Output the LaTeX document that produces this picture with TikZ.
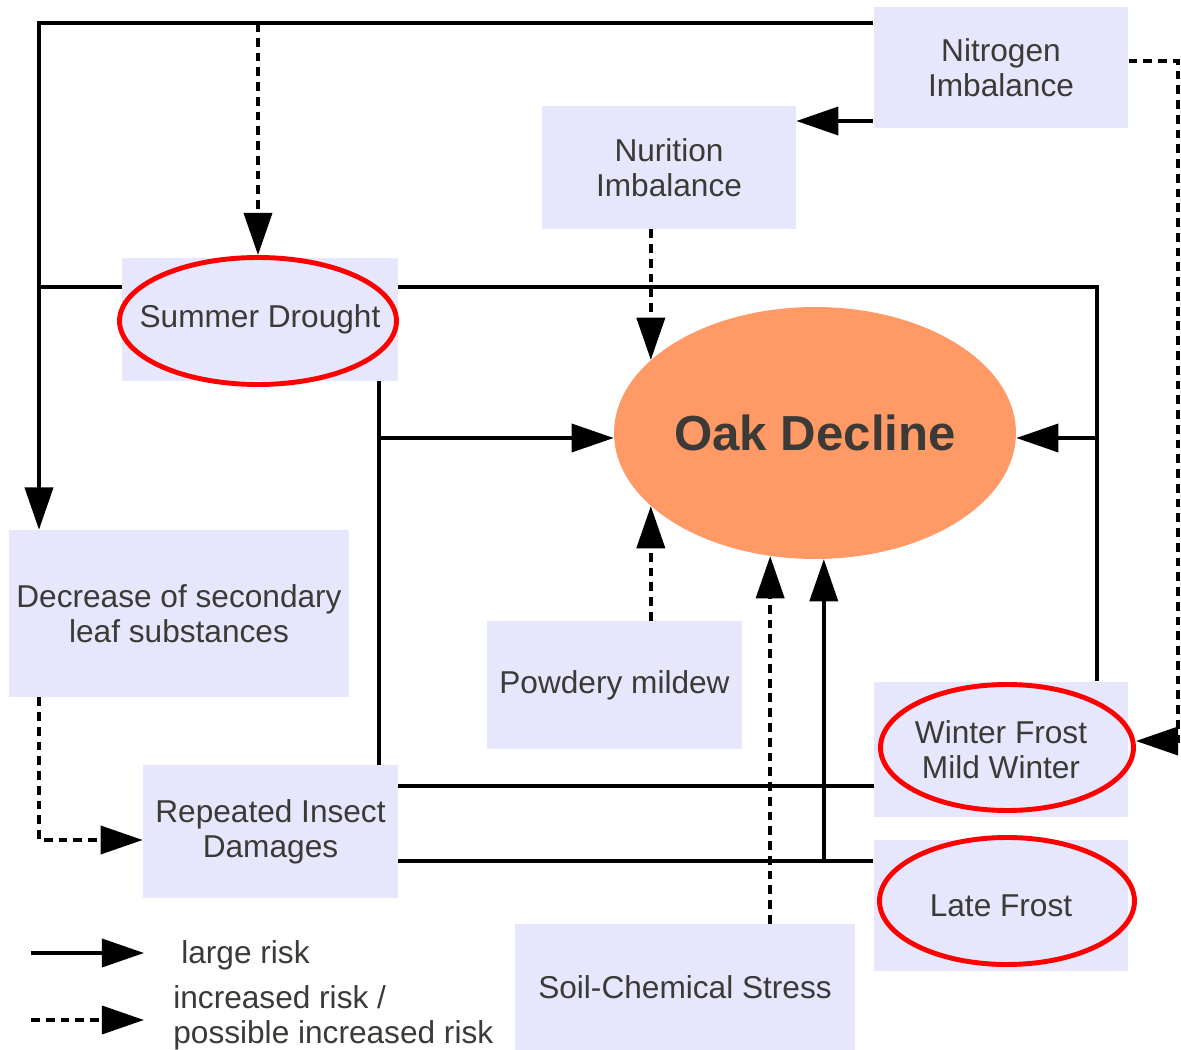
\documentclass[tikz,border=0pt]{standalone}
\usepackage{fontspec}
\setmainfont{Liberation Sans}
\usetikzlibrary{arrows.meta,shapes.geometric}
\definecolor{boxfill}{RGB}{230,230,252}
\definecolor{oakfill}{RGB}{255,153,102}
\definecolor{txt}{RGB}{60,58,54}
\begin{document}
\begin{tikzpicture}[x=0.02cm,y=-0.02cm,
    every node/.style={font=\fontsize{18}{20}\selectfont,text=txt},
    box/.style={rectangle,fill=boxfill,align=center,inner sep=0pt},
    ring/.style={ellipse,draw=red,line width=2.8pt,inner sep=0pt},
    link/.style={line width=2pt},
    risk/.style={link,-{Triangle[length=24pt,width=16pt]}},
    maybe/.style={link,dash pattern=on 5pt off 3.4pt},
    mayberisk/.style={maybe,-{Triangle[length=24pt,width=16pt]}}]
    \useasboundingbox (0,0) rectangle (1181,1050);
    % boxes
    \node at (1001,67.5) [box,minimum width=5.09cm,minimum height=2.42cm] (nit) {Nitrogen\\Imbalance};
    \node at (669,167.5) [box,minimum width=5.08cm,minimum height=2.46cm] (nut) {Nurition\\Imbalance};
    \node at (260,319.5) [box,minimum width=5.52cm,minimum height=2.46cm] (sd) {Summer Drought};
    \node at (179,613.5) [box,minimum width=6.8cm,minimum height=3.34cm] (dec) {Decrease of secondary\\leaf substances};
    \node at (614.5,685) [box,minimum width=5.1cm,minimum height=2.56cm] (pm) {Powdery mildew};
    \node at (1001,749.5) [box,minimum width=5.08cm,minimum height=2.72cm] (wf) {Winter Frost\\Mild Winter};
    \node at (270.5,831.5) [box,minimum width=5.1cm,minimum height=2.66cm] (rid) {Repeated Insect\\Damages};
    \node at (1001,905.5) [box,minimum width=5.1cm,minimum height=2.64cm] (lf) {Late Frost};
    \node at (685,987.5) [box,minimum width=6.8cm,minimum height=2.54cm] (soil) {Soil-Chemical Stress};
    % red rings
    \node at (258,321) [ring,minimum width=5.54cm,minimum height=2.54cm] (sdr) {};
    \node at (1007,747.5) [ring,minimum width=5.06cm,minimum height=2.52cm] (wfr) {};
    \node at (1007,901) [ring,minimum width=5.1cm,minimum height=2.54cm] (lfr) {};
    % centre
    \node at (815,433) [ellipse,fill=oakfill,inner sep=0pt,minimum width=8.04cm,minimum height=5.04cm,font=\bfseries\fontsize{28}{30}\selectfont] (od) {Oak Decline};
    % junctions
    \coordinate (c1) at (39,23);
    \coordinate (c2) at (258,23);
    \coordinate (c3) at (39,287);
    \coordinate (c5) at (1097,287);
    \coordinate (jl) at (379,438);
    \coordinate (jr) at (1097,438);
    \coordinate (c6) at (1178,61);
    \coordinate (c7) at (1178,741);
    \coordinate (c4) at (39,840);
    \coordinate (r0) at (0,121);
    \coordinate (r1) at (0,786);
    \coordinate (r2) at (0,861);
    % connectors
    \draw[risk] (nit.west |- c1) -- (c1) -- (dec.north -| c1);
    \draw[mayberisk] (c2) -- (sdr.north);
    \draw[link] (c3) -- (sd.west |- c3);
    \draw[link] (sd.east |- c3) -- (c5) -- (wf.north -| c5);
    \draw[risk] (jr) -- (od.east |- jr);
    \draw[link] (sd.south -| jl) -- (rid.north -| jl);
    \draw[risk] (jl) -- (od.west |- jl);
    \draw[risk] (nit.west |- r0) -- (nut.east |- r0);
    \draw[mayberisk] (nit.east |- c6) -- (c6) -- (c7) -- (wfr.east |- c7);
    \draw[mayberisk] (od.156 |- nut.south) -- (od.156);
    \draw[mayberisk] (od.204 |- pm.north) -- (od.204);
    \draw[mayberisk] (od.250 |- soil.north) -- (od.250);
    \draw[risk] (od.274 |- r2) -- (od.274);
    \draw[link] (rid.east |- r1) -- (wf.west |- r1);
    \draw[link] (rid.east |- r2) -- (lf.west |- r2);
    \draw[mayberisk] (dec.south -| c4) -- (c4) -- (rid.west |- c4);
    % legend
    \coordinate (la) at (31,953);
    \coordinate (lb) at (144,953);
    \coordinate (lc) at (31,1020);
    \coordinate (ld) at (144,1020);
    \draw[risk] (la) -- (lb);
    \draw[mayberisk] (lc) -- (ld);
    \node at (181,955) [anchor=west,inner sep=0pt] (lgl) {large risk};
    \node at (173,1018) [anchor=west,inner sep=0pt,align=left] (lgm) {increased risk /\\possible increased risk};
\end{tikzpicture}
\end{document}
